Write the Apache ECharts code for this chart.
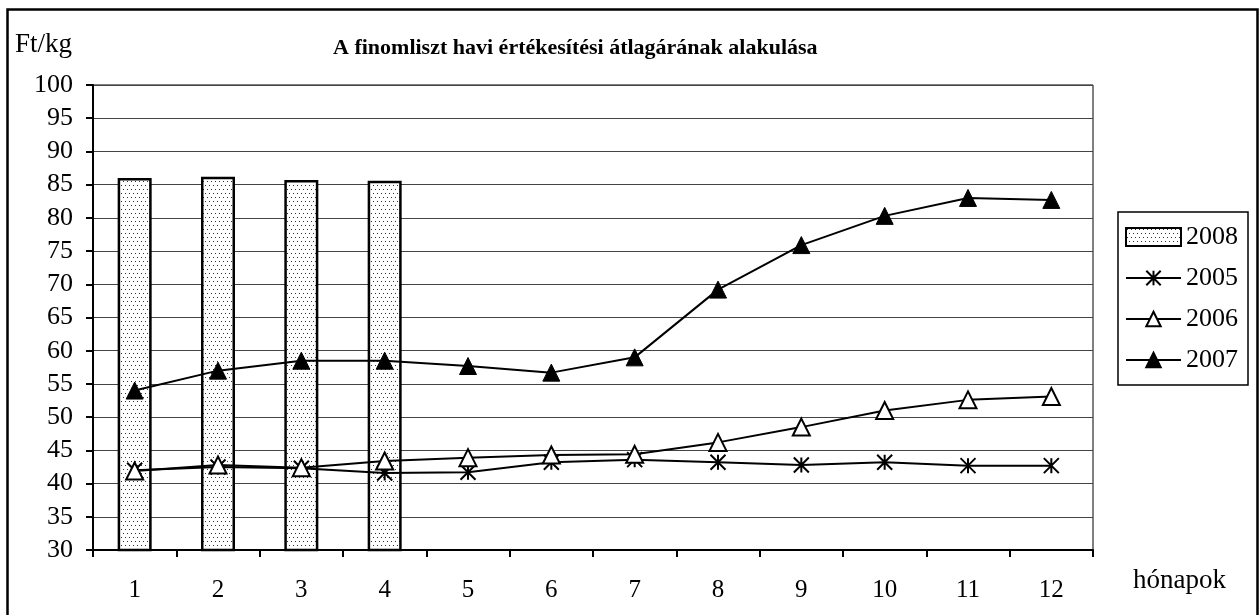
<!DOCTYPE html>
<html>
<head>
<meta charset="utf-8">
<script src="https://cdn.jsdelivr.net/npm/echarts@6/dist/echarts.min.js"></script>
<style>
  body { margin: 0; background: #fff; }
  #chart { width: 1260px; height: 615px; }
</style>
</head>
<body>
<div id="chart"></div>
<script>
// adatok
const months = ['1', '2', '3', '4', '5', '6', '7', '8', '9', '10', '11', '12'];
const yTicks = [30, 100, 5]; // min, max, lépés
const v2008 = [86.0, 86.2, 85.7, 85.6, null, null, null, null, null, null, null, null];
const v2005 = [42.0, 42.5, 42.3, 41.6, 41.7, 43.2, 43.6, 43.2, 42.8, 43.2, 42.7, 42.7];
const v2006 = [41.9, 42.8, 42.4, 43.4, 43.9, 44.3, 44.4, 46.2, 48.5, 51.0, 52.6, 53.1];
const v2007 = [54.0, 57.0, 58.5, 58.5, 57.7, 56.7, 59.0, 69.2, 75.9, 80.3, 83.0, 82.7];

const serif = 'Liberation Serif, Times New Roman, serif';

// pontozott kitöltés az oszlopokhoz
function dotPattern() {
  const c = document.createElement('canvas');
  c.width = 8; c.height = 8;
  const ctx = c.getContext('2d');
  ctx.fillStyle = '#fff';
  ctx.fillRect(0, 0, 8, 8);
  ctx.fillStyle = '#333';
  [[1, 1], [5, 1], [3, 5], [7, 5]].forEach(p => ctx.fillRect(p[0], p[1], 1, 1));
  return c;
}

// csillag jel (2005)
const starPath = 'path://M0,0 L10,10 M10,0 L0,10 M5,0 L5,10';

const myChart = echarts.init(document.getElementById('chart'));
myChart.setOption({
  animation: false,
  title: {
    text: 'A finomliszt havi értékesítési átlagárának alakulása',
    left: 328,
    top: 32,
    textStyle: { fontFamily: serif, fontSize: 22, fontWeight: 'bold', color: '#000' }
  },
  legend: {
    orient: 'vertical',
    left: 1118,
    top: 212,
    padding: [12, 10, 12, 7],
    itemGap: 15,
    itemWidth: 55,
    itemHeight: 18,
    borderColor: '#000',
    borderWidth: 1.5,
    data: [{ name: '2008', icon: 'rect' }, '2005', '2006', '2007'],
    textStyle: { fontFamily: serif, fontSize: 26, color: '#000', lineHeight: 26 }
  },
  grid: {
    left: 93, right: 167, top: 85, bottom: 65,
    show: true, borderColor: '#000', borderWidth: 1
  },
  xAxis: {
    type: 'category',
    data: months,
    boundaryGap: true,
    axisLine: { lineStyle: { color: '#000', width: 2 } },
    axisTick: { show: true, length: 7, lineStyle: { color: '#000', width: 2 } },
    axisLabel: { margin: 28, fontFamily: serif, fontSize: 25, color: '#000' },
    splitLine: { show: false }
  },
  yAxis: {
    type: 'value',
    min: yTicks[0],
    max: yTicks[1],
    interval: yTicks[2],
    axisLine: { show: true, lineStyle: { color: '#000', width: 2 } },
    axisTick: { show: true, length: 7, lineStyle: { color: '#000', width: 2 } },
    axisLabel: { margin: 20, fontFamily: serif, fontSize: 26, color: '#000' },
    splitLine: { lineStyle: { color: '#444', width: 1 } }
  },
  graphic: [
    {
      type: 'rect', left: 5, top: 7, silent: true,
      shape: { width: 1250, height: 620 },
      style: { fill: 'none', stroke: '#000', lineWidth: 2.5 }
    },
    {
      type: 'text', left: 15, top: 31,
      style: { text: 'Ft/kg', fontFamily: serif, fontSize: 27, fill: '#000' }
    },
    {
      type: 'text', left: 1133, top: 567,
      style: { text: 'hónapok', fontFamily: serif, fontSize: 27, fill: '#000' }
    }
  ],
  series: [
    {
      name: '2008',
      type: 'bar',
      data: v2008,
      barWidth: 34,
      itemStyle: {
        color: { image: dotPattern(), repeat: 'repeat' },
        borderColor: '#000',
        borderWidth: 2.5
      }
    },
    {
      name: '2005',
      type: 'line',
      data: v2005,
      symbol: starPath,
      symbolSize: 15,
      showAllSymbol: true,
      lineStyle: { color: '#000', width: 2 },
      itemStyle: { color: '#000', borderColor: '#000', borderWidth: 2 }
    },
    {
      name: '2006',
      type: 'line',
      data: v2006,
      symbol: 'triangle',
      symbolSize: 17,
      showAllSymbol: true,
      lineStyle: { color: '#000', width: 2 },
      itemStyle: { color: '#fff', borderColor: '#000', borderWidth: 2 }
    },
    {
      name: '2007',
      type: 'line',
      data: v2007,
      symbol: 'triangle',
      symbolSize: 17,
      showAllSymbol: true,
      lineStyle: { color: '#000', width: 2 },
      itemStyle: { color: '#000', borderColor: '#000', borderWidth: 1 }
    }
  ]
});
</script>
</body>
</html>
